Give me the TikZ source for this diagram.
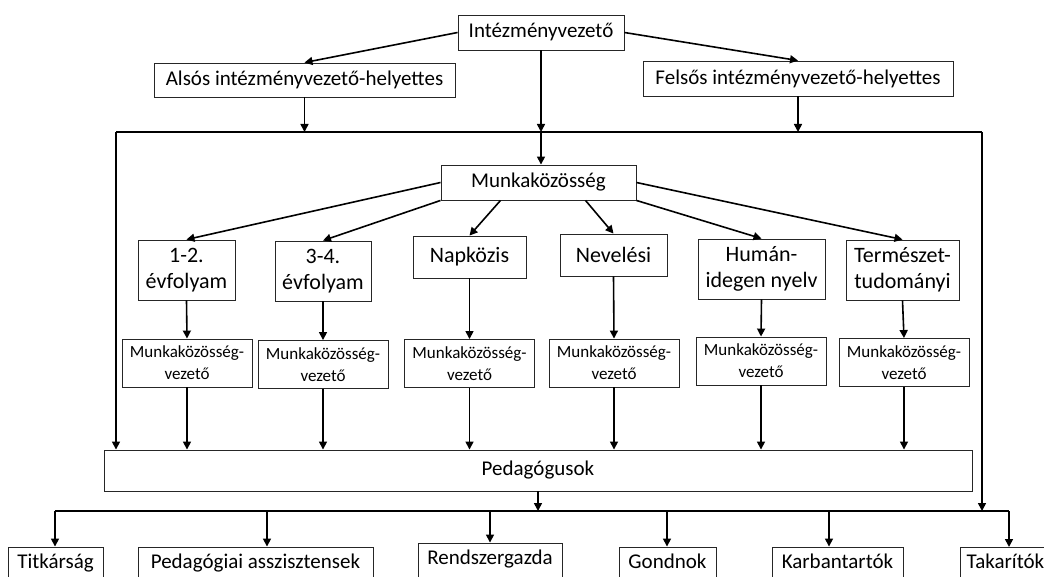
\documentclass[tikz,border=0pt]{standalone}
\usepackage{fontspec}
\setmainfont{Carlito}
\usetikzlibrary{arrows.meta,calc}

\tikzset{
  box/.style={draw=black!85,line width=0.9pt,rectangle,inner sep=0pt,align=center,font=\fontsize{21}{25}\selectfont},
  grp/.style={box,font=\fontsize{22}{26}\selectfont},
  lead/.style={box,minimum width=130,minimum height=48,font=\fontsize{17}{22}\selectfont},
  bottom/.style={box,minimum height=34,text height=14,text depth=5},
  conn/.style={line width=1.6pt,-{Triangle[length=8pt,width=8pt]}},
  busline/.style={line width=1.6pt}
}

\begin{document}
\begin{tikzpicture}[x=1pt,y=-1pt]
\useasboundingbox (0,0) rectangle (1044,577);
\clip (0,0) rectangle (1044,577);

% vezetok
\node[box,minimum width=166,minimum height=35] (top) at (541,32.5) {Intézményvezető};
\node[box,minimum width=301,minimum height=34] (als) at (304.5,80) {Alsós intézményvezető-helyettes};
\node[box,minimum width=310,minimum height=35] (fel) at (798,78.5) {Felsős intézményvezető-helyettes};

% munkakozossegek
\node[box,minimum width=195,minimum height=35] (mk) at (538.5,182.5) {Munkaközösség};
\node[grp,minimum width=97,minimum height=60] (g1) at (186.5,270) {1-2.\\évfolyam};
\node[grp,minimum width=96,minimum height=60] (g2) at (323,271) {3-4.\\évfolyam};
\node[grp,minimum width=113,minimum height=42] (g3) at (469.5,257) {Napközis};
\node[grp,minimum width=107,minimum height=42] (g4) at (613.5,255) {Nevelési};
\node[grp,minimum width=127,minimum height=60] (g5) at (761.5,269) {Humán-\\idegen nyelv};
\node[grp,minimum width=113,minimum height=60] (g6) at (902.5,270) {Természet-\\tudományi};

\node[lead] (v1) at (187,363) {Munkaközösség-\\vezető};
\node[lead] (v2) at (323,364.5) {Munkaközösség-\\vezető};
\node[lead] (v3) at (469.5,363.5) {Munkaközösség-\\vezető};
\node[lead] (v4) at (614,363) {Munkaközösség-\\vezető};
\node[lead] (v5) at (761,361) {Munkaközösség-\\vezető};
\node[lead] (v6) at (904,362.5) {Munkaközösség-\\vezető};

\node[box,minimum width=868,minimum height=41] (ped) at (538,470.5) {Pedagógusok};

% also sor
\node[bottom,minimum width=95] (b1) at (55.5,564) {Titkárság};
\node[bottom,minimum width=235] (b2) at (255.5,564) {Pedagógiai asszisztensek};
\node[bottom,minimum width=144] (b3) at (490,560) {Rendszergazda};
\node[bottom,minimum width=97] (b4) at (667.5,564) {Gondnok};
\node[bottom,minimum width=131] (b5) at (837.5,564) {Karbantartók};
\node[bottom,minimum width=90,anchor=north west] (b6) at (960,547) {Takarítók};

% sinek
\coordinate (busL) at (116,132);
\coordinate (busR) at (982,132);
\coordinate (lowL) at (55,511);
\coordinate (lowR) at (1009,511);
\coordinate (midT) at (top.south |- busL);

\draw[conn] (top.west) -- (als.north);
\draw[conn] (top.east) -- (fel.north);
\draw[conn] (top.south) -- (midT);
\draw[conn] (midT) -- (midT |- mk.north);
\draw[conn] (als.south) -- (als.south |- busL);
\draw[conn] (fel.south) -- (fel.south |- busR);
\draw[busline] (busL) -- (busR);
\draw[conn] (busL) -- (busL |- ped.north);
\draw[conn] (busR) -- (busR |- lowL);

\draw[conn] (mk.west) -- (g1.north);
\draw[conn] (mk.south west) -- (g2.north);
\draw[conn] ([xshift=-38]mk.south) -- (g3.north);
\draw[conn] ([xshift=47]mk.south) -- (g4.north);
\draw[conn] (mk.south east) -- (g5.north);
\draw[conn] (mk.east) -- (g6.north);

\foreach \i in {1,...,6}{
  \draw[conn] (g\i.south) -- (v\i.north);
  \draw[conn] (v\i.south) -- (v\i.south |- ped.north);
}

\draw[conn] (ped.south) -- (ped.south |- lowL);
\draw[busline] (lowL) -- (lowR);
\foreach \x/\b in {55/b1,267/b2,490/b3,667/b4,829/b5,1009/b6}{
  \coordinate (d\b) at (\x,511);
  \draw[conn] (d\b) -- (d\b |- \b.north);
}
\end{tikzpicture}
\end{document}
